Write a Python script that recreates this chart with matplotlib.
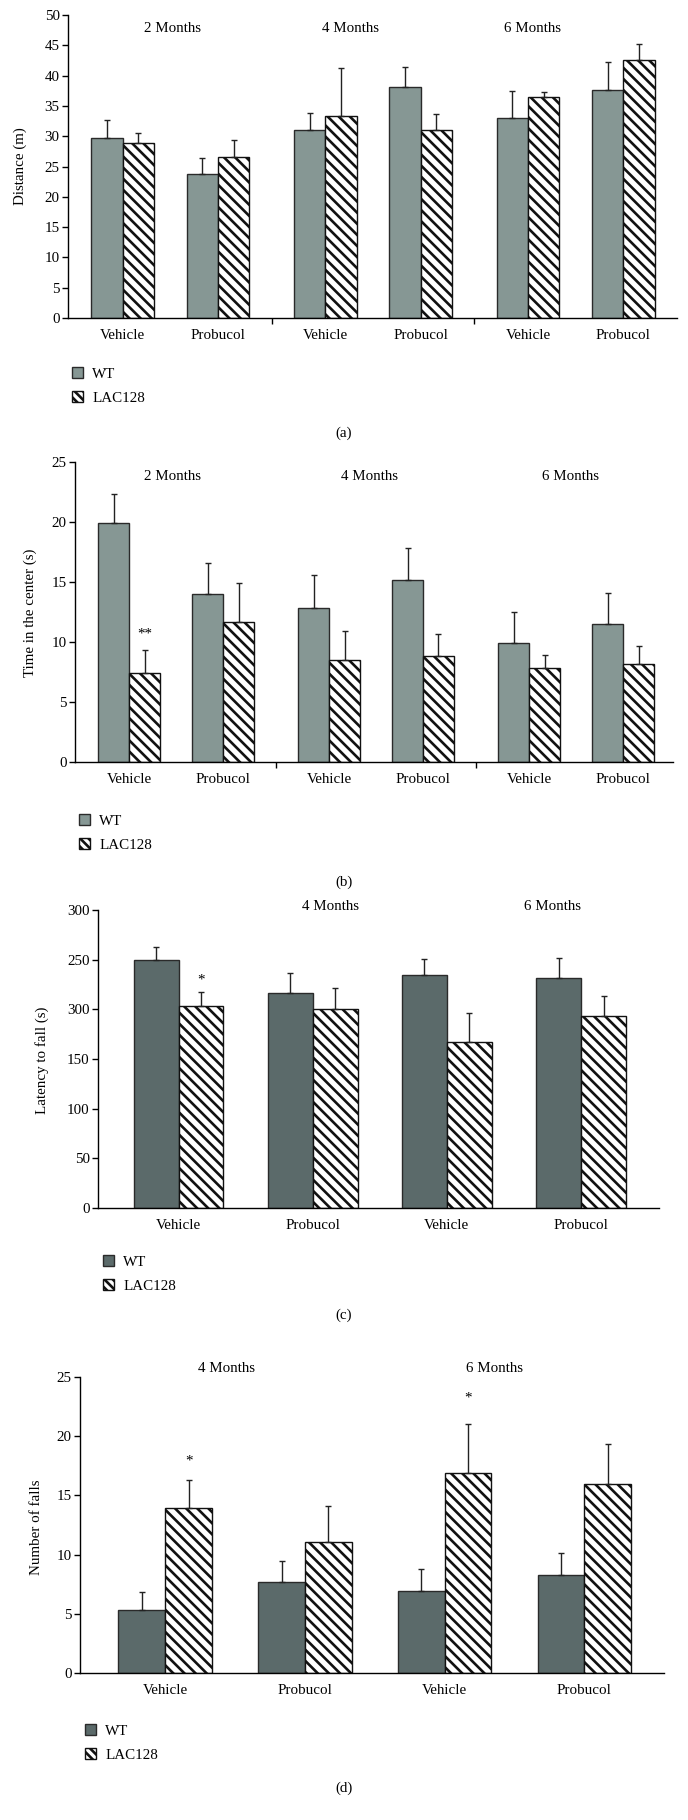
import numpy as np
import matplotlib
matplotlib.use("Agg")
from matplotlib import pyplot as plt
from matplotlib.patches import Patch

plt.rcParams["font.family"] = ["Liberation Serif", "DejaVu Serif"]
plt.rcParams["hatch.linewidth"] = 1.9

# values (mean and SEM)
months_ab = ["2 Months", "4 Months", "6 Months"]
months_cd = ["4 Months", "6 Months"]
treatments = ["Vehicle", "Probucol"]
groups = ["WT", "LAC128"]

dist_wt = [29.7, 23.7, 31.1, 38.1, 33.0, 37.7]
dist_wt_sem = [2.9, 2.7, 2.7, 3.4, 4.5, 4.5]
dist_lac = [28.8, 26.5, 33.4, 31.1, 36.4, 42.6]
dist_lac_sem = [1.7, 2.9, 7.8, 2.5, 0.9, 2.6]

center_wt = [19.9, 14.0, 12.85, 15.2, 9.95, 11.5]
center_wt_sem = [2.4, 2.6, 2.75, 2.65, 2.55, 2.6]
center_lac = [7.45, 11.7, 8.5, 8.8, 7.85, 8.2]
center_lac_sem = [1.9, 3.2, 2.45, 1.85, 1.05, 1.45]

latency_wt = [250, 216, 235, 232]
latency_wt_sem = [13, 21, 16, 20]
latency_lac = [203, 200, 167, 193]
latency_lac_sem = [14, 21, 29, 20]
latency_ticklabels = ["0", "50", "100", "150", "300", "250", "300"]

falls_wt = [5.35, 7.65, 6.95, 8.25]
falls_wt_sem = [1.45, 1.8, 1.85, 1.85]
falls_lac = [13.95, 11.1, 16.85, 16.0]
falls_lac_sem = [2.35, 3.0, 4.2, 3.3]

W, H = 688, 1820
fig = plt.figure(figsize=(W / 100, H / 100), dpi=100)
FS = 10.8


def px_ax(l, r, t, b):
    return fig.add_axes([l / W, 1 - b / H, (r - l) / W, (b - t) / H])


def ftext(x, y, s, **kw):
    fig.text(x / W, 1 - y / H, s, ha="center", va="center", **kw)


def panel(ax, x, wt, wt_sem, lac, lac_sem, off, width, wt_color):
    ax.bar(x - off, wt, width, color=wt_color, edgecolor="#2a2a2a", linewidth=1.0, zorder=2)
    ax.bar(x + off, lac, width, color="white", edgecolor="#111111", hatch="\\\\\\",
           linewidth=1.0, zorder=2)
    ax.errorbar(x - off, wt, yerr=[np.zeros(len(wt)), wt_sem], fmt="none",
                ecolor="#222222", elinewidth=1.0, capsize=2.2, capthick=1.0, zorder=3)
    ax.errorbar(x + off, lac, yerr=[np.zeros(len(lac)), lac_sem], fmt="none",
                ecolor="#222222", elinewidth=1.0, capsize=2.2, capthick=1.0, zorder=3)
    ax.spines["top"].set_visible(False)
    ax.spines["right"].set_visible(False)
    ax.spines["left"].set_linewidth(1.0)
    ax.spines["bottom"].set_linewidth(1.0)
    ax.tick_params(axis="y", direction="out", length=4, width=1, pad=2, labelsize=FS)
    ax.tick_params(axis="x", which="major", length=0, pad=8, labelsize=FS)


def legend(x, y, wt_color):
    handles = [Patch(facecolor=wt_color, edgecolor="#2a2a2a", linewidth=1.0),
               Patch(facecolor="white", edgecolor="#111111", hatch="\\\\\\\\", linewidth=1.0)]
    fig.legend(handles, groups, loc="upper left", bbox_to_anchor=(x / W, 1 - y / H),
               frameon=False, fontsize=FS, handlelength=0.75, handleheight=0.75,
               handletextpad=0.6, labelspacing=0.7, borderpad=0, borderaxespad=0)


wt_light = "#869794"
wt_dark = "#5b6a6a"

# (a) distance
x6 = np.repeat(np.arange(3) * 2.0, 2) + np.tile([-0.47, 0.47], 3)
ax = px_ax(68, 677, 15, 318)
panel(ax, x6, dist_wt, dist_wt_sem, dist_lac, dist_lac_sem, 0.155, 0.31, wt_light)
ax.set_xlim(-1.01, 5.0)
ax.set_ylim(0, 50)
ax.set_yticks(np.arange(0, 51, 5))
ax.set_xticks(x6)
ax.set_xticklabels(treatments * 3)
ax.set_xticks([1, 3], minor=True)
ax.tick_params(axis="x", which="minor", direction="out", length=4, width=1)
for lbl, xp in zip(months_ab, [173, 350, 532]):
    ftext(xp, 28, lbl, fontsize=FS)
ftext(20, 166, "Distance (m)", rotation=90, fontsize=FS)
legend(72, 367, wt_light)
ftext(344, 433, "(a)", fontsize=FS)

# (b) time in center
ax = px_ax(75, 673, 462, 762)
panel(ax, x6, center_wt, center_wt_sem, center_lac, center_lac_sem, 0.155, 0.31, wt_light)
ax.set_xlim(-1.01, 4.97)
ax.set_ylim(0, 25)
ax.set_yticks(np.arange(0, 26, 5))
ax.set_xticks(x6)
ax.set_xticklabels(treatments * 3)
ax.set_xticks([1, 3], minor=True)
ax.tick_params(axis="x", which="minor", direction="out", length=4, width=1)
ax.text(x6[0] + 0.155, center_lac[0] + center_lac_sem[0] + 1.3, "**",
        ha="center", va="center", fontsize=FS)
for lbl, xp in zip(months_ab, [173, 370, 570]):
    ftext(xp, 477, lbl, fontsize=FS)
ftext(30, 613, "Time in the center (s)", rotation=90, fontsize=FS)
legend(79, 814, wt_light)
ftext(344, 882, "(b)", fontsize=FS)

# (c) latency to fall
x4 = np.arange(4)
ax = px_ax(98, 659, 910, 1208)
panel(ax, x4, latency_wt, latency_wt_sem, latency_lac, latency_lac_sem, 0.1675, 0.335, wt_dark)
ax.set_xlim(-0.6, 3.58)
ax.set_ylim(0, 300)
ax.set_yticks(np.arange(0, 301, 50))
ax.set_yticklabels(latency_ticklabels)
ax.set_xticks(x4)
ax.set_xticklabels(treatments * 2)
ax.text(x4[0] + 0.1675, latency_lac[0] + latency_lac_sem[0] + 12, "*",
        ha="center", va="center", fontsize=FS)
for lbl, xp in zip(months_cd, [330, 552]):
    ftext(xp, 907, lbl, fontsize=FS)
ftext(42, 1060, "Latency to fall (s)", rotation=90, fontsize=FS)
legend(103, 1255, wt_dark)
ftext(344, 1315, "(c)", fontsize=FS)

# (d) number of falls
ax = px_ax(80, 664, 1377, 1673)
panel(ax, x4, falls_wt, falls_wt_sem, falls_lac, falls_lac_sem, 0.1675, 0.335, wt_dark)
ax.set_xlim(-0.61, 3.57)
ax.set_ylim(0, 25)
ax.set_yticks(np.arange(0, 26, 5))
ax.set_xticks(x4)
ax.set_xticklabels(treatments * 2)
for i in [0, 2]:
    ax.text(x4[i] + 0.1675, falls_lac[i] + falls_lac_sem[i] + 1.6 + 0.6 * i / 2, "*",
            ha="center", va="center", fontsize=FS)
for lbl, xp in zip(months_cd, [227, 494]):
    ftext(xp, 1369, lbl, fontsize=FS)
ftext(37, 1527, "Number of falls", rotation=90, fontsize=FS)
legend(85, 1724, wt_dark)
ftext(344, 1788, "(d)", fontsize=FS)

fig.savefig("out.png", dpi=100)
